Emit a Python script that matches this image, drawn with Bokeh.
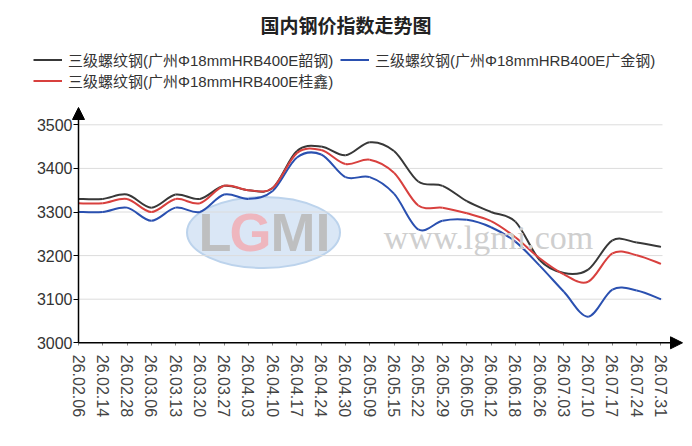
from bokeh.plotting import figure
from bokeh.models import (Range1d, FixedTicker, Arrow, NormalHead, Label,
                          Legend, LegendItem, ColumnDataSource)
from bokeh.embed import file_html
from bokeh.resources import INLINE

title_text = "国内钢价指数走势图"
dates = ["26.02.06", "26.02.14", "26.02.28", "26.03.06", "26.03.13", "26.03.20",
         "26.03.27", "26.04.03", "26.04.10", "26.04.17", "26.04.24", "26.04.30",
         "26.05.09", "26.05.15", "26.05.22", "26.05.29", "26.06.05", "26.06.12",
         "26.06.18", "26.06.26", "26.07.03", "26.07.10", "26.07.17", "26.07.24",
         "26.07.31"]
name_shaogang = "三级螺纹钢(广州Φ18mmHRB400E韶钢)"
name_guangjin = "三级螺纹钢(广州Φ18mmHRB400E广金钢)"
name_guixin = "三级螺纹钢(广州Φ18mmHRB400E桂鑫)"
shaogang = [3330, 3330, 3340, 3310, 3340, 3330, 3360, 3350, 3355, 3440, 3450, 3430,
            3460, 3440, 3370, 3360, 3325, 3300, 3278, 3190, 3160, 3168, 3235, 3230, 3220]
guangjin = [3300, 3300, 3310, 3280, 3310, 3300, 3340, 3330, 3348, 3425, 3432, 3380,
            3380, 3342, 3260, 3280, 3282, 3265, 3232, 3177, 3117, 3060, 3122, 3120, 3100]
guixin = [3320, 3320, 3330, 3300, 3330, 3320, 3360, 3350, 3355, 3435, 3442, 3410,
          3420, 3390, 3315, 3310, 3297, 3279, 3242, 3194, 3157, 3140, 3205, 3201, 3181]
yticks = [3000, 3100, 3200, 3300, 3400, 3500]


def smooth_source(vals):
    n = len(vals)
    xs = list(range(n))
    d = dict(x0=[], y0=[], x1=[], y1=[], cx0=[], cy0=[], cx1=[], cy1=[])
    for i in range(n - 1):
        a, b = max(i - 1, 0), min(i + 2, n - 1)
        d["x0"].append(xs[i]); d["y0"].append(vals[i])
        d["x1"].append(xs[i + 1]); d["y1"].append(vals[i + 1])
        d["cx0"].append(xs[i] + (xs[i + 1] - xs[a]) / 6)
        d["cy0"].append(vals[i] + (vals[i + 1] - vals[a]) / 6)
        d["cx1"].append(xs[i + 1] - (xs[b] - xs[i]) / 6)
        d["cy1"].append(vals[i + 1] - (vals[b] - vals[i]) / 6)
    return ColumnDataSource(d)


W, H = 692, 446
px_x = 24.27          # pixels per category step
px_y = 0.436          # pixels per index unit
ox, oy = 78, 342.3    # pixel position of (first category, 3000)
x_start, x_end = -ox / px_x, (W - ox) / px_x
y_start, y_end = 3000 - (H - oy) / px_y, 3000 + oy / px_y


def dx(px):
    return (px - ox) / px_x


def dy(py):
    return 3000 + (oy - py) / px_y


p = figure(width=W, height=H, title=None, output_backend="svg", toolbar_location=None,
           x_range=Range1d(x_start, x_end), y_range=Range1d(y_start, y_end),
           min_border_left=0, min_border_right=0, min_border_top=0,
           min_border_bottom=0)
p.outline_line_color = None
p.xgrid.visible = False
p.ygrid.visible = False

# watermark
p.ellipse(x=dx(263), y=dy(232), width=153 / px_x, height=71 / px_y,
          fill_color="#d3e3f4", fill_alpha=0.85, line_color="#bcd3ec", line_width=2)
for txt, px, col in (("L", 198, "#bdbdbd"), ("G", 229, "#efb3ba"), ("MI", 270, "#bdbdbd")):
    p.add_layout(Label(x=dx(px), y=dy(231), text=txt, text_align="left",
                       text_baseline="middle", text_font="Liberation Sans",
                       text_font_style="bold", text_font_size="54px",
                       text_color=col, text_alpha=0.95))
p.add_layout(Label(x=dx(488), y=dy(237), text="www.lgmi.com", text_align="center",
                   text_baseline="middle", text_font="Liberation Serif",
                   text_font_size="34px", text_color="#cfcfcf"))

# gridlines
gl = [t for t in yticks if t > 3000]
p.segment(x0=[0] * len(gl), x1=[dx(662)] * len(gl), y0=gl, y1=gl,
          line_color="#dcdcdc", line_width=1)

r_black = p.bezier(x0="x0", y0="y0", x1="x1", y1="y1", cx0="cx0", cy0="cy0",
                   cx1="cx1", cy1="cy1", source=smooth_source(shaogang),
                   line_color="#383838", line_width=2)
r_blue = p.bezier(x0="x0", y0="y0", x1="x1", y1="y1", cx0="cx0", cy0="cy0",
                  cx1="cx1", cy1="cy1", source=smooth_source(guangjin),
                  line_color="#2a50b0", line_width=2)
r_red = p.bezier(x0="x0", y0="y0", x1="x1", y1="y1", cx0="cx0", cy0="cy0",
                 cx1="cx1", cy1="cy1", source=smooth_source(guixin),
                 line_color="#d8403e", line_width=2)

# axes with arrows
p.add_layout(Arrow(end=NormalHead(size=12, fill_color="black", line_color="black"),
                   x_start=0, y_start=3000, x_end=0, y_end=dy(107),
                   line_color="black", line_width=1.5))
p.add_layout(Arrow(end=NormalHead(size=12, fill_color="black", line_color="black"),
                   x_start=0, y_start=3000, x_end=dx(682), y_end=3000,
                   line_color="black", line_width=1.5))

p.yaxis.fixed_location = 0
p.yaxis.ticker = FixedTicker(ticks=yticks)
p.yaxis.axis_line_color = None
p.yaxis.major_tick_in = 0
p.yaxis.major_tick_out = 5
p.yaxis.minor_tick_line_color = None
p.yaxis.major_label_standoff = 1
p.yaxis.major_label_text_font = "Liberation Sans"
p.yaxis.major_label_text_font_size = "16px"
p.yaxis.major_label_text_color = "#333333"

p.xaxis.fixed_location = 3000
p.xaxis.ticker = FixedTicker(ticks=list(range(len(dates))))
p.xaxis.major_label_overrides = {i: d for i, d in enumerate(dates)}
p.xaxis.major_label_orientation = "vertical"
p.xaxis.axis_line_color = None
p.xaxis.major_tick_in = 0
p.xaxis.major_tick_out = 3
p.xaxis.major_tick_line_color = "#888888"
p.xaxis.minor_tick_line_color = None
p.xaxis.major_label_standoff = 9
p.xaxis.major_label_text_font = "Liberation Sans"
p.xaxis.major_label_text_font_size = "16px"
p.xaxis.major_label_text_color = "#444444"

p.add_layout(Label(x=dx(345.5), y=dy(24), text=title_text,
                   text_align="center", text_baseline="middle",
                   text_font="Noto Sans CJK SC", text_font_style="bold",
                   text_font_size="19px", text_color="#222222"))

legend = Legend(items=[LegendItem(label=name_shaogang, renderers=[r_black]),
                       LegendItem(label=name_guangjin, renderers=[r_blue]),
                       LegendItem(label=name_guixin, renderers=[r_red])],
                orientation="horizontal", ncols=2, location=(33, H - 91),
                padding=0, margin=0, spacing=0, label_standoff=6,
                glyph_width=29, glyph_height=19, label_height=19, label_width=272,
                border_line_color=None, background_fill_alpha=0,
                label_text_font="Liberation Sans, Noto Sans CJK SC",
                label_text_font_size="15px", label_text_color="#333333")
p.add_layout(legend)

open("out.html", "w").write(file_html(p, INLINE))
